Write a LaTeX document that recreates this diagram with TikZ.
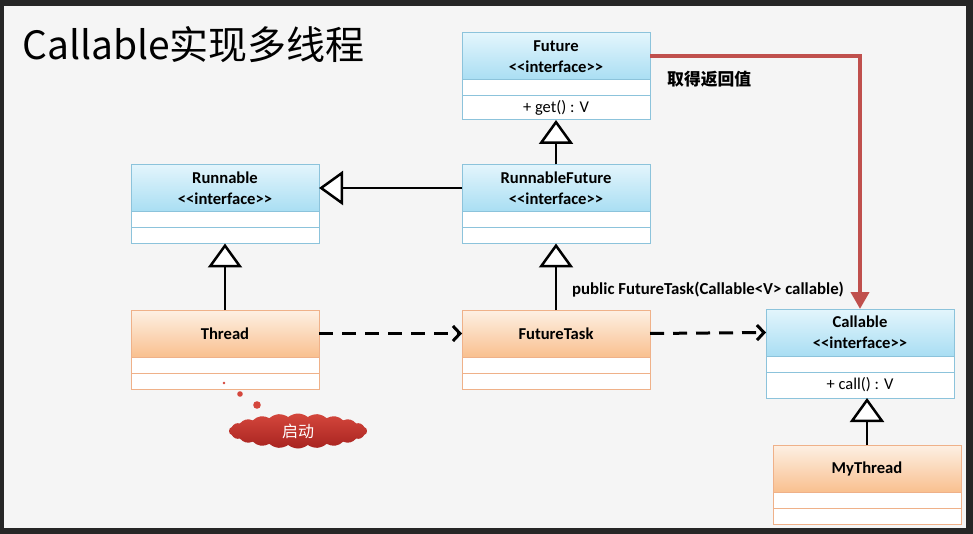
\documentclass[tikz,border=0pt]{standalone}
\usepackage{fontspec}
\setmainfont{Carlito}
\newfontfamily\cjk{Noto Sans CJK SC}
\usepackage{xcolor}
\usepackage{tikz}
\usetikzlibrary{shapes,shapes.symbols,arrows.meta,positioning,calc}

\definecolor{framec}{HTML}{262626}
\definecolor{slidebg}{HTML}{F5F5F5}
\definecolor{ifctop}{HTML}{E3F5FC}
\definecolor{ifcbot}{HTML}{A9DEF3}
\definecolor{ifcline}{HTML}{8CC3DB}
\definecolor{clstop}{HTML}{FDF0E4}
\definecolor{clsbot}{HTML}{F9C08F}
\definecolor{clsline}{HTML}{EFB189}
\definecolor{retred}{HTML}{C0504D}
\definecolor{cloudtop}{HTML}{D4463C}
\definecolor{cloudbot}{HTML}{A82420}

\newcommand{\ifc}{<{}<interface>{}>}

\begin{document}
\begin{tikzpicture}[
    x=1pt, y=-1pt,
    node distance=0pt,
    hdrb/.style={rectangle, draw=ifcline, top color=ifctop, bottom color=ifcbot, line width=1pt, outer sep=0pt, inner sep=0pt, align=center, minimum height=47pt, minimum width=188pt, font=\fontsize{16.6}{21}\selectfont\bfseries},
    hdro/.style={hdrb, draw=clsline, top color=clstop, bottom color=clsbot},
    rowb/.style={rectangle, draw=ifcline, fill=white, line width=1pt, outer sep=0pt, inner sep=0pt, minimum height=16pt, minimum width=188pt, font=\fontsize{16.5}{18}\selectfont},
    rowo/.style={rowb, draw=clsline},
    inh/.style={line width=2.5pt, -{Triangle[length=24pt, width=34pt, fill=white]}},
    dep/.style={line width=3pt, dash pattern=on 14pt off 9pt, -{Straight Barb[length=7pt, width=15pt]}},
    ret/.style={line width=4pt, draw=retred, -{Triangle[length=17pt, width=18pt]}}
]
    \fill[framec] (0,0) rectangle (973,534);
    \fill[slidebg] (4,6) rectangle (966,528);

    \node [anchor=west, inner sep=0pt, font=\cjk\fontsize{39}{44}\selectfont] (title) at (22,45) {Callable实现多线程};

    \node [hdrb] (fut) at (556,56.5) {Future\\\ifc};
    \node [rowb, below=of fut] (fut1) {};
    \node [rowb, below=of fut1, minimum height=24pt] (fut2) {+ get() : V};

    \node [hdrb] (run) at (225,188) {Runnable\\\ifc};
    \node [rowb, below=of run] (run1) {};
    \node [rowb, below=of run1] (run2) {};

    \node [hdrb] (rfut) at (556,188) {RunnableFuture\\\ifc};
    \node [rowb, below=of rfut] (rfut1) {};
    \node [rowb, below=of rfut1] (rfut2) {};

    \node [hdro] (thr) at (225,333.5) {Thread};
    \node [rowo, below=of thr] (thr1) {};
    \node [rowo, below=of thr1] (thr2) {};

    \node [hdro] (ftask) at (556,333.5) {FutureTask};
    \node [rowo, below=of ftask] (ftask1) {};
    \node [rowo, below=of ftask1] (ftask2) {};

    \node [hdrb] (cal) at (860,332.5) {Callable\\\ifc};
    \node [rowb, below=of cal] (cal1) {};
    \node [rowb, below=of cal1, minimum height=26pt] (cal2) {+ call() : V};

    \node [hdro] (myt) at (867,468.5) {MyThread};
    \node [rowo, below=of myt] (myt1) {};
    \node [rowo, below=of myt1] (myt2) {};

    \node [anchor=west, inner sep=0pt, font=\cjk\fontsize{16.8}{18}\selectfont\bfseries] (lblget) at (667,79) {取得返回值};
    \node [inner sep=0pt, font=\fontsize{16.8}{18}\selectfont\bfseries] (lblctor) at (708,290) {public FutureTask(Callable<V> callable)};

    \fill[cloudtop] (224,383) circle[radius=1.3];
    \fill[cloudtop] (240,394) circle[radius=2.8];
    \fill[cloudtop] (257,405) circle[radius=3.8];
    \node [cloud, cloud puffs=22, cloud puff arc=80, aspect=4, minimum width=138pt, minimum height=35pt, inner sep=0pt, top color=cloudtop, bottom color=cloudbot, text=white, font=\cjk\fontsize{16}{18}\selectfont] (start) at (298,431) {启动};

    \draw [inh] (rfut.north) -- (fut2.south);
    \draw [inh] (rfut.west) -- (run.east);
    \draw [inh] (thr.north) -- (run2.south);
    \draw [inh] (ftask.north) -- (rfut2.south);
    \draw [inh] (myt.north) -- (myt.north |- cal2.south);

    \draw [dep] (thr.east) -- (ftask.west);
    \draw [dep] (ftask.east) -- (cal.west);

    \draw [ret] (fut.east) -| (cal.north);
\end{tikzpicture}
\end{document}
